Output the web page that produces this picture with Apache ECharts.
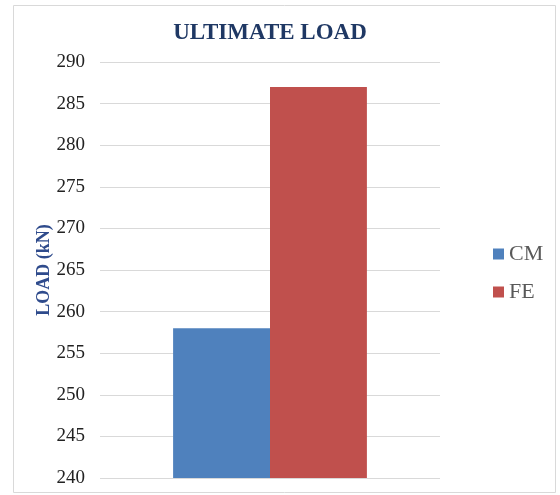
<!DOCTYPE html>
<html>
<head>
<meta charset="utf-8">
<style>
  html, body { margin: 0; padding: 0; background: #fff; }
  #chart { width: 560px; height: 495px; }
</style>
<script src="https://cdn.jsdelivr.net/npm/echarts@6/dist/echarts.min.js"></script>
</head>
<body>
<div id="chart"></div>
<script>
// Ultimate load comparison: CM vs FE
const categories = ['Ultimate load'];
const seriesNames = ['CM', 'FE'];
const cmValues = [258];
const feValues = [287];
const yMin = 240;
const yMax = 290;
const yStep = 5;

const serif = '"Liberation Serif", "DejaVu Serif", serif';
const chart = echarts.init(document.getElementById('chart'));

chart.setOption({
  animation: false,
  title: {
    text: 'ULTIMATE LOAD',
    left: 265,
    textAlign: 'center',
    top: 17,
    textStyle: { fontFamily: serif, fontWeight: 'bold', fontSize: 23, color: '#1f3864' }
  },
  graphic: [{
    type: 'rect',
    shape: { x: 13.5, y: 5.5, width: 542, height: 487 },
    style: { fill: 'none', stroke: '#d9d9d9', lineWidth: 1 },
    silent: true
  }],
  legend: {
    orient: 'vertical',
    left: 488,
    top: 238,
    itemWidth: 11,
    itemHeight: 11,
    itemGap: 16,
    icon: 'rect',
    textStyle: { fontFamily: serif, fontSize: 22, color: '#595959' },
    data: seriesNames
  },
  grid: { left: 100, right: 120, top: 62, bottom: 17, containLabel: false },
  xAxis: {
    type: 'category',
    data: categories,
    axisLine: { show: false },
    axisTick: { show: false },
    axisLabel: { show: false }
  },
  yAxis: {
    type: 'value',
    min: yMin,
    max: yMax,
    interval: yStep,
    name: 'LOAD (kN)',
    nameLocation: 'middle',
    nameGap: 47,
    nameMoveOverlap: false,
    nameTextStyle: { fontFamily: serif, fontSize: 18, fontWeight: 'bold', color: '#2f4b8c' },
    axisLine: { show: false },
    axisTick: { show: false },
    axisLabel: { fontFamily: serif, fontSize: 19, color: '#222', margin: 15 },
    splitLine: { lineStyle: { color: '#d9d9d9', width: 1 } }
  },
  series: [
    {
      name: 'CM', type: 'bar', data: cmValues,
      barGap: '0%', barCategoryGap: '43%',
      itemStyle: { color: '#4f81bd' }
    },
    {
      name: 'FE', type: 'bar', data: feValues,
      barGap: '0%', barCategoryGap: '43%',
      itemStyle: { color: '#c0504d' }
    }
  ]
});
</script>
</body>
</html>
